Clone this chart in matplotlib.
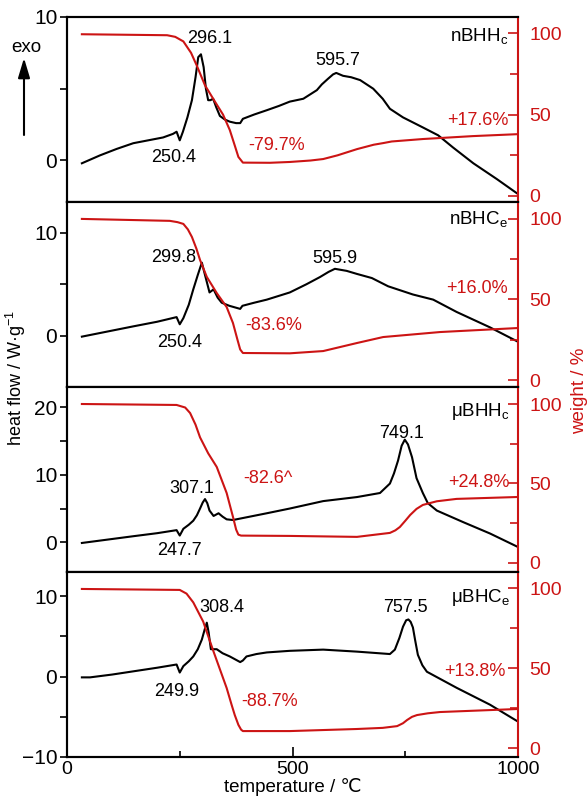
import matplotlib
matplotlib.use("Agg")
import matplotlib.pyplot as plt
from matplotlib.patches import FancyArrowPatch

plt.rcParams['font.family'] = ['Liberation Sans', 'DejaVu Sans']
plt.rcParams['mathtext.fontset'] = 'custom'
plt.rcParams['mathtext.rm'] = 'Liberation Sans'

RED = "#cc1414"

# ---- data ----
# panel 1: nBHHc
t1_dsc = [33, 73, 110, 147, 180, 213, 235, 243, 250, 257, 267, 277, 285, 291, 297, 303, 308, 313, 318, 324,
          331, 339, 350, 361, 375, 384, 390, 415, 443, 470, 494, 524, 554, 565, 579, 590, 597, 612, 630,
          650, 679, 700, 716, 745, 789, 823, 856, 901, 953, 998]
hf1 = [-0.2, 0.35, 0.8, 1.2, 1.4, 1.6, 1.85, 2.0, 1.4, 2.0, 3.0, 4.2, 5.8, 7.2, 7.4, 6.5, 5.0, 4.2, 4.2, 4.3,
       3.7, 3.1, 2.85, 2.7, 2.6, 2.6, 2.9, 3.2, 3.5, 3.8, 4.1, 4.3, 4.9, 5.3, 5.7, 6.0, 6.1, 5.9, 5.8,
       5.6, 5.0, 4.3, 3.6, 3.0, 2.3, 1.75, 0.9, -0.2, -1.3, -2.3]
t1_tg = [33, 222, 240, 258, 275, 288, 306, 328, 346, 361, 372, 380, 390, 450, 494, 540, 568, 600,
         643, 680, 701, 720, 789, 900, 1000]
wt1 = [99.4, 98.8, 97.8, 95, 88, 80, 68, 58, 50, 40.5, 31, 24, 20.5, 20.4, 20.9, 21.8, 22.7, 25,
       28.8, 31.5, 32.5, 33.5, 35, 36.8, 38]

# panel 2: nBHCe
t2_dsc = [33, 90, 147, 200, 243, 250, 258, 270, 280, 290, 299, 306, 316, 325, 334, 343, 360, 384, 389,
          415, 443, 494, 531, 561, 580, 594, 620, 643, 676, 712, 767, 812, 864, 938, 1000]
hf2 = [-0.1, 0.4, 0.9, 1.35, 1.8, 1.1, 1.7, 3.0, 4.5, 5.9, 7.1, 5.9, 4.2, 4.5, 3.7, 3.2, 2.9, 2.6, 2.9,
       3.2, 3.5, 4.2, 5.0, 5.7, 6.2, 6.5, 6.3, 6.0, 5.6, 4.8, 4.0, 3.5, 2.3, 0.8, -0.6]
t2_tg = [33, 228, 245, 258, 268, 277, 287, 295, 310, 332, 354, 368, 378, 384, 390, 494, 568, 643,
         701, 827, 1000]
wt2 = [100, 98.8, 98, 96.9, 93.5, 88.8, 81.5, 74.5, 64, 54, 45.3, 35.4, 25, 19, 16.8, 16.6, 18, 23,
       26.7, 29.8, 32.3]

# panel 3: uBHHc
t3_dsc = [33, 90, 147, 200, 243, 250, 258, 270, 280, 288, 295, 301, 306, 311, 316, 325, 336, 345, 354,
          368, 443, 494, 568, 643, 694, 716, 725, 734, 742, 749, 756, 765, 775, 789, 800, 820, 878, 938, 1000]
hf3 = [-0.1, 0.4, 0.9, 1.35, 1.8, 1.0, 2.0, 2.6, 3.2, 4.0, 5.0, 5.9, 6.4, 5.8, 4.7, 3.9, 4.3, 3.8, 3.4,
       3.3, 4.3, 5.0, 6.1, 6.7, 7.3, 8.7, 10.2, 12.1, 14.3, 15.2, 14.5, 12.6, 9.5, 7.3, 5.8, 4.7, 3.0, 1.3, -0.7]
t3_tg = [33, 243, 262, 273, 285, 295, 313, 332, 354, 368, 375, 380, 386, 494, 643, 716, 728, 738,
         750, 761, 775, 789, 820, 864, 1000]
wt3 = [100, 99.4, 97.8, 94.3, 87, 79, 69, 60.4, 44, 29, 21, 17.8, 17.2, 17, 16.4, 18.9, 20.5, 22.6,
       26.5, 30.2, 34, 36.5, 38.8, 40.3, 41.5]

# panel 4: uBHCe
t4_dsc = [33, 51, 100, 147, 200, 243, 250, 258, 270, 280, 290, 299, 305, 310, 314, 319, 332, 345, 361,
          384, 390, 398, 420, 443, 494, 568, 643, 716, 727, 737, 745, 752, 757, 762, 767, 772, 778, 788,
          798, 864, 938, 1000]
hf4 = [-0.1, -0.1, 0.25, 0.65, 1.1, 1.5, 0.5, 1.3, 1.9, 2.5, 3.4, 4.6, 5.8, 6.7, 5.5, 3.4, 3.4, 2.9, 2.5,
       1.8, 2.0, 2.5, 2.8, 3.0, 3.2, 3.35, 3.1, 2.8, 3.35, 4.8, 6.2, 7.0, 7.1, 6.8, 6.1, 4.5, 2.7, 1.4,
       0.6, -1.4, -3.5, -5.6]
t4_tg = [33, 250, 265, 280, 302, 324, 354, 365, 372, 380, 386, 390, 494, 643, 700, 732, 745, 754,
         765, 776, 800, 827, 1000]
wt4 = [99.4, 98.8, 96.5, 91, 79, 61, 37.5, 27, 20.6, 14.5, 11.5, 10.6, 10.6, 11.9, 12.6, 13.7, 15.5,
       17.5, 19.5, 20.6, 21.7, 22.5, 24.4]

names = [r"nBHH$_{\rm c}$", r"nBHC$_{\rm e}$", r"μBHH$_{\rm c}$", r"μBHC$_{\rm e}$"]
left_lims = [(-2.9, 10), (-5, 13), (-4.4, 23), (-10, 13)]
left_major = [[0, 10], [0, 10], [0, 10, 20], [-10, 0, 10]]
left_minor = [[5], [5], [5, 15], [-5, 5]]
right_lims = [(-3.7, 110), (-4.3, 110.5), (-5.7, 110.7), (-5.6, 110)]

# peak labels: (text, T, value)
peaks = [
    [("296.1", 317, 8.5), ("250.4", 236, 0.2), ("595.7", 601, 7.0)],
    [("299.8", 236, 7.6), ("250.4", 250, -0.7), ("595.9", 594, 7.5)],
    [("307.1", 277, 8.0), ("247.7", 250, -1.2), ("749.1", 742, 16.1)],
    [("308.4", 344, 8.6), ("249.9", 243, -1.9), ("757.5", 750, 8.6)],
]
loss_labels = [("-79.7%", 401, 1.05), ("-83.6%", 396, 1.0), ("-82.6^", 390, 9.5), ("-88.7%", 386, -3.1)]
gain_labels = [("+17.6%", 911, 2.8), ("+16.0%", 908, 4.6), ("+24.8%", 913, 8.9), ("+13.8%", 905, 0.6)]
name_pos = [(915, 8.6), (913, 11.3), (917, 19.4), (917, 9.8)]

dsc = [(t1_dsc, hf1), (t2_dsc, hf2), (t3_dsc, hf3), (t4_dsc, hf4)]
tg = [(t1_tg, wt1), (t2_tg, wt2), (t3_tg, wt3), (t4_tg, wt4)]

fig = plt.figure(figsize=(5.88, 8.07), dpi=100)
W, H = 588, 807
left, right = 67 / W, 518 / W
edges = [17, 202, 387, 572, 757]

for i in range(4):
    y0 = 1 - edges[i + 1] / H
    hgt = (edges[i + 1] - edges[i]) / H
    ax = fig.add_axes([left, y0, right - left, hgt])
    ax2 = ax.twinx()

    ax.plot(dsc[i][0], dsc[i][1], color="black", lw=1.5, zorder=3, solid_joinstyle="round")
    ax2.plot(tg[i][0], tg[i][1], color=RED, lw=1.5, solid_joinstyle="round")

    ax.set_xlim(0, 1000)
    ax.set_ylim(*left_lims[i])
    ax2.set_ylim(*right_lims[i])
    ax.set_yticks(left_major[i])
    ax.set_yticks(left_minor[i], minor=True)
    ax.tick_params(axis="y", which="both", direction="out", length=5, width=1.2, pad=2, labelsize=15)
    ax2.set_yticks([0, 50, 100])
    ax2.set_yticks([25, 75], minor=True)
    ax2.tick_params(axis="y", which="both", direction="in", length=7, width=1.2, pad=8,
                    colors=RED, labelsize=14)
    ax2.tick_params(axis="y", which="minor", length=6)

    for sp in ["left", "top", "bottom"]:
        ax.spines[sp].set_linewidth(1.5)
        ax2.spines[sp].set_linewidth(1.5)
    ax2.spines["right"].set_color(RED)
    ax2.spines["right"].set_linewidth(1.5)
    ax.spines["right"].set_visible(False)

    if i < 3:
        ax.set_xticks([])
    else:
        ax.set_xticks([0, 500, 1000])
        ax.set_xticks([250, 750], minor=True)
        ax.tick_params(axis="x", which="major", direction="in", length=7, width=1.2, labelsize=14, pad=3)
        ax.tick_params(axis="x", which="minor", direction="in", length=4, width=1.2)
        ax.set_xlabel("temperature / ℃", fontsize=13.5, labelpad=0)

    for txt, tx, ty in peaks[i]:
        ax.text(tx, ty, txt, fontsize=13, ha="center", va="center", zorder=4)
    txt, tx, ty = loss_labels[i]
    ax.text(tx, ty, txt, fontsize=13, ha="left", va="center", color=RED)
    txt, tx, ty = gain_labels[i]
    ax.text(tx, ty, txt, fontsize=13, ha="center", va="center", color=RED)
    ax.text(name_pos[i][0], name_pos[i][1], names[i], fontsize=13.5, ha="center", va="center")

fig.text(16 / W, 1 - 378 / H, "heat flow / W·g$^{-1}$", rotation=90, ha="center", va="center", fontsize=13)
fig.text(580 / W, 1 - 391 / H, "weight / %", rotation=90, ha="center", va="center", fontsize=13.5, color=RED)
fig.text(26 / W, 1 - 48 / H, "exo", ha="center", va="center", fontsize=13.5)
fig.add_artist(FancyArrowPatch((24 / W, 1 - 135 / H), (24 / W, 1 - 58 / H),
               transform=fig.transFigure, arrowstyle="-|>,head_length=0.6,head_width=0.18",
               mutation_scale=20, color="black", lw=1.5, shrinkA=0, shrinkB=0))

fig.savefig("out.png", dpi=100)
